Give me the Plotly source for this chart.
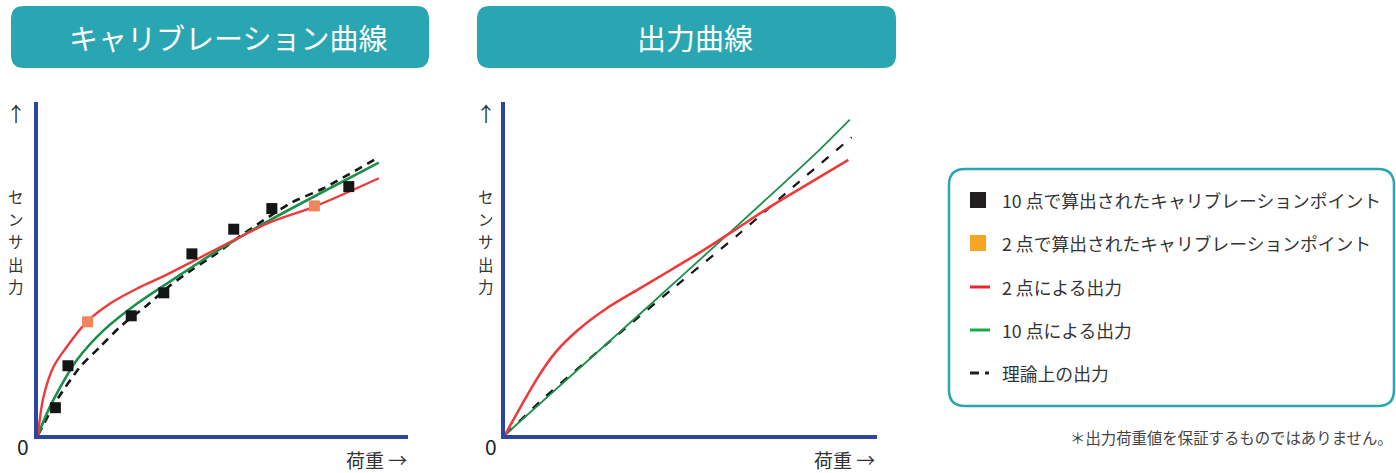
import plotly.graph_objects as go

W, H = 1396, 473

# ---------------- data (normalised 0..1) ----------------
# Calibration curve panel
cal_pts10_x = [0.047, 0.081, 0.252, 0.340, 0.416, 0.529, 0.632, 0.840]
cal_pts10_y = [0.082, 0.208, 0.358, 0.427, 0.544, 0.618, 0.680, 0.746]
cal_pts2_x = [0.134, 0.747]
cal_pts2_y = [0.340, 0.688]

cal_red_x = [0, 0.015, 0.042, 0.078, 0.132, 0.195, 0.268, 0.340, 0.416, 0.538, 0.628, 0.747, 0.921]
cal_red_y = [0, 0.115, 0.205, 0.265, 0.340, 0.395, 0.440, 0.477, 0.520, 0.590, 0.639, 0.686, 0.771]

cal_green_x = [0, 0.024, 0.051, 0.105, 0.178, 0.268, 0.376, 0.502, 0.628, 0.763, 0.921]
cal_green_y = [0, 0.065, 0.125, 0.225, 0.315, 0.395, 0.475, 0.565, 0.646, 0.726, 0.818]

cal_theory_x = [0, 0.051, 0.114, 0.168, 0.222, 0.295, 0.358, 0.421, 0.484, 0.538, 0.682, 0.772, 0.916]
cal_theory_y = [0, 0.105, 0.205, 0.265, 0.325, 0.390, 0.450, 0.500, 0.546, 0.591, 0.696, 0.741, 0.831]

# Output curve panel
out_red_x = [0, 0.090, 0.134, 0.197, 0.269, 0.358, 0.448, 0.538, 0.618, 0.717, 0.806, 0.923]
out_red_y = [0, 0.176, 0.246, 0.316, 0.377, 0.437, 0.497, 0.558, 0.616, 0.688, 0.748, 0.826]

out_green_x = [0, 0.385, 0.618, 0.847, 0.927]
out_green_y = [0, 0.386, 0.622, 0.858, 0.947]

out_theory_x = [0, 0.108, 0.287, 0.448, 0.627, 0.788, 0.932]
out_theory_y = [0, 0.115, 0.286, 0.437, 0.602, 0.758, 0.894]

titles = ["キャリブレーション曲線", "出力曲線"]
y_label = "センサ出力"
x_label = "荷重 →"
legend_labels = [
    "10 点で算出されたキャリブレーションポイント",
    "2 点で算出されたキャリブレーションポイント",
    "2 点による出力",
    "10 点による出力",
    "理論上の出力",
]
footnote = "＊出力荷重値を保証するものではありません。"

# ---------------- styles ----------------
FONT = "Noto Sans CJK JP"
TEAL = "#2AA5B2"
AXIS_BLUE = "#2C469F"
RED = "#EE3A3C"
GREEN = "#1B8F4C"
BLACK = "#151515"
ORANGE_PT = "#F2845C"
ORANGE_LG = "#F6A623"
TXT = "#333333"


def px(x):
    return x / W


def py(y):
    return 1 - y / H


fig = go.Figure()

# left panel traces
fig.add_trace(go.Scatter(x=cal_theory_x, y=cal_theory_y, mode="lines",
                         line=dict(color=BLACK, width=2.6, dash="8px,6px", shape="spline", smoothing=0.6),
                         xaxis="x", yaxis="y", hoverinfo="skip"))
fig.add_trace(go.Scatter(x=cal_green_x, y=cal_green_y, mode="lines",
                         line=dict(color=GREEN, width=2.6, shape="spline", smoothing=0.8),
                         xaxis="x", yaxis="y", hoverinfo="skip"))
fig.add_trace(go.Scatter(x=cal_red_x, y=cal_red_y, mode="lines",
                         line=dict(color=RED, width=2.4, shape="spline", smoothing=1.0),
                         xaxis="x", yaxis="y", hoverinfo="skip"))
fig.add_trace(go.Scatter(x=cal_pts10_x, y=cal_pts10_y, mode="markers",
                         marker=dict(symbol="square", size=11, color=BLACK),
                         xaxis="x", yaxis="y", hoverinfo="skip"))
fig.add_trace(go.Scatter(x=cal_pts2_x, y=cal_pts2_y, mode="markers",
                         marker=dict(symbol="square", size=11, color=ORANGE_PT),
                         xaxis="x", yaxis="y", hoverinfo="skip"))

# right panel traces
fig.add_trace(go.Scatter(x=out_theory_x, y=out_theory_y, mode="lines",
                         line=dict(color=BLACK, width=2.2, dash="9px,10px", shape="spline", smoothing=0.5),
                         xaxis="x2", yaxis="y2", hoverinfo="skip"))
fig.add_trace(go.Scatter(x=out_green_x, y=out_green_y, mode="lines",
                         line=dict(color=GREEN, width=1.8, shape="spline", smoothing=0.5),
                         xaxis="x2", yaxis="y2", hoverinfo="skip"))
fig.add_trace(go.Scatter(x=out_red_x, y=out_red_y, mode="lines",
                         line=dict(color=RED, width=2.6, shape="spline", smoothing=1.0),
                         xaxis="x2", yaxis="y2", hoverinfo="skip"))

ydom = [py(435), py(102)]
ax_common = dict(range=[0, 1], showgrid=False, zeroline=False, showticklabels=False,
                 ticks="", showline=True, linecolor=AXIS_BLUE, linewidth=4, fixedrange=True)

fig.update_layout(
    width=W, height=H,
    margin=dict(l=0, r=0, t=0, b=0),
    paper_bgcolor="white", plot_bgcolor="white",
    showlegend=False,
    xaxis=dict(domain=[px(38), px(408)], anchor="y", **ax_common),
    yaxis=dict(domain=ydom, anchor="x", **ax_common),
    xaxis2=dict(domain=[px(505), px(877)], anchor="y2", **ax_common),
    yaxis2=dict(domain=ydom, anchor="x2", **ax_common),
    font=dict(family=FONT, color=TXT),
)


def rounded_rect(x0, y0, x1, y1, r):
    pts = [
        ("M", x0 + r, y0), ("L", x1 - r, y0), ("Q", x1, y0, x1, y0 + r),
        ("L", x1, y1 - r), ("Q", x1, y1, x1 - r, y1), ("L", x0 + r, y1),
        ("Q", x0, y1, x0, y1 - r), ("L", x0, y0 + r), ("Q", x0, y0, x0 + r, y0),
    ]
    s = ""
    for p in pts:
        cmd = p[0]
        coords = p[1:]
        parts = []
        for i in range(0, len(coords), 2):
            parts.append(f"{px(coords[i]):.6f},{py(coords[i+1]):.6f}")
        s += cmd + " " + " ".join(parts) + " "
    return s + "Z"


shapes = []
annotations = []

# header boxes
headers = [((11, 6, 429, 68), 228), ((477, 6, 896, 68), 695)]
for (box, cx), title in zip(headers, titles):
    shapes.append(dict(type="path", path=rounded_rect(*box, 13), xref="paper", yref="paper",
                       fillcolor=TEAL, line=dict(width=0), layer="below"))
    annotations.append(dict(text=title, x=px(cx), y=py(37), xref="paper", yref="paper",
                            showarrow=False, xanchor="center", yanchor="middle",
                            font=dict(family=FONT, size=29, color="white")))

# axis labels for both panels
panel_labels = [dict(ax=16, zx=23, xl=376), dict(ax=486, zx=491, xl=845)]
char_y = [196, 218.5, 241, 263.5, 286]
for pl in panel_labels:
    annotations.append(dict(text="↑", x=px(pl["ax"]), y=py(113), xref="paper", yref="paper",
                            showarrow=False, xanchor="center", yanchor="middle",
                            font=dict(family=FONT, size=20, color=TXT)))
    for ch, cy in zip(y_label, char_y):
        annotations.append(dict(text=ch, x=px(pl["ax"]), y=py(cy),
                                xref="paper", yref="paper", showarrow=False,
                                xanchor="center", yanchor="middle",
                                font=dict(family=FONT, size=15.5, color=TXT)))
    annotations.append(dict(text="0", x=px(pl["zx"]), y=py(446), xref="paper", yref="paper",
                            showarrow=False, xanchor="center", yanchor="middle",
                            font=dict(family=FONT, size=21, color="#222222")))
    annotations.append(dict(text=x_label, x=px(pl["xl"]), y=py(459), xref="paper", yref="paper",
                            showarrow=False, xanchor="center", yanchor="middle",
                            font=dict(family=FONT, size=19, color=TXT)))

# legend box
shapes.append(dict(type="path", path=rounded_rect(949, 169, 1394, 406, 16), xref="paper", yref="paper",
                   fillcolor="white", line=dict(color=TEAL, width=2.5)))
row_y = [200, 243, 287, 330, 373]
for i, (lab, yy) in enumerate(zip(legend_labels, row_y)):
    if i == 0 or i == 1:
        col = "#231F20" if i == 0 else ORANGE_LG
        shapes.append(dict(type="rect", xref="paper", yref="paper", x0=px(970), x1=px(986),
                           y0=py(yy + 8), y1=py(yy - 8), fillcolor=col, line=dict(width=0)))
    elif i == 2 or i == 3:
        col = "#E8252E" if i == 2 else "#1AAA4E"
        shapes.append(dict(type="line", xref="paper", yref="paper", x0=px(970), x1=px(990),
                           y0=py(yy), y1=py(yy), line=dict(color=col, width=3)))
    else:
        shapes.append(dict(type="line", xref="paper", yref="paper", x0=px(970), x1=px(979),
                           y0=py(yy), y1=py(yy), line=dict(color="#231F20", width=3)))
        shapes.append(dict(type="line", xref="paper", yref="paper", x0=px(985), x1=px(989),
                           y0=py(yy), y1=py(yy), line=dict(color="#231F20", width=3)))
    annotations.append(dict(text=lab, x=px(1000), y=py(yy), xref="paper", yref="paper",
                            showarrow=False, xanchor="left", yanchor="middle",
                            font=dict(family=FONT, size=17.8, color="#333333")))

annotations.append(dict(text=footnote, x=px(1395), y=py(437), xref="paper", yref="paper",
                        showarrow=False, xanchor="right", yanchor="middle",
                        font=dict(family=FONT, size=15.4, color="#444444")))

fig.update_layout(shapes=shapes, annotations=annotations)
fig.write_html("out.html", config={"displayModeBar": False},
               post_script="document.body.style.margin='0';document.body.style.padding='0';")
